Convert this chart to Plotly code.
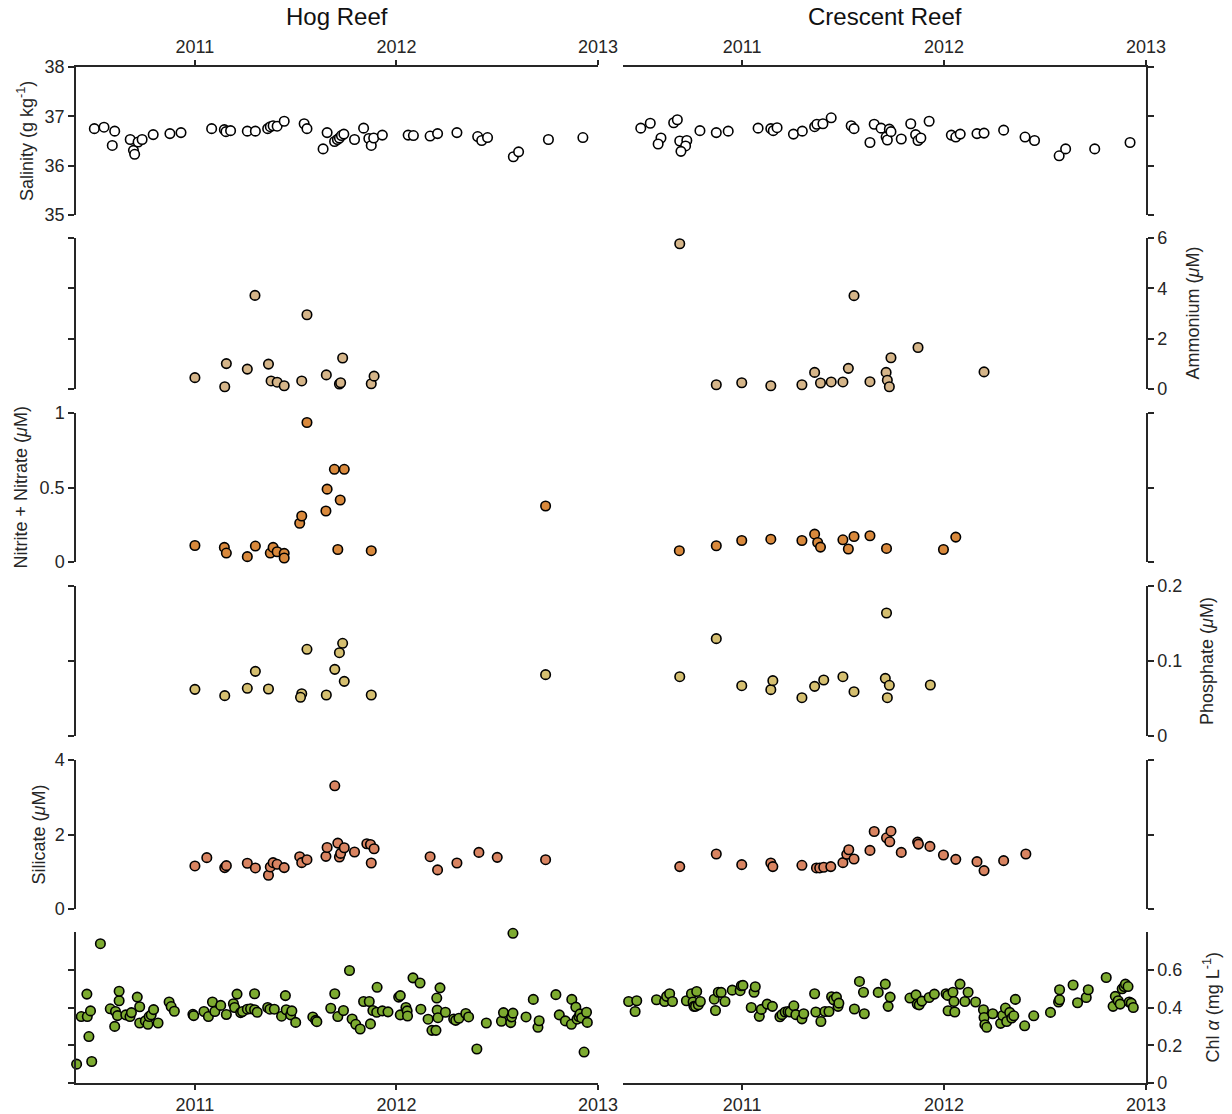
import plotly.graph_objects as go

# ---------------- DATA (decimal years, values) ----------------
hog_sal_t = [2010.501, 2010.549, 2010.602, 2010.590, 2010.679, 2010.695, 2010.701, 2010.718, 2010.738, 2010.793,
             2010.876, 2010.931, 2011.083, 2011.146, 2011.154, 2011.177, 2011.260, 2011.300, 2011.361, 2011.374,
             2011.388, 2011.408, 2011.443, 2011.542, 2011.556, 2011.636, 2011.656, 2011.693, 2011.707, 2011.717,
             2011.727, 2011.739, 2011.792, 2011.837, 2011.863, 2011.875, 2011.887, 2011.930, 2012.058, 2012.084,
             2012.167, 2012.204, 2012.300, 2012.403, 2012.423, 2012.452, 2012.580, 2012.606, 2012.754, 2012.925]
hog_sal = [36.75, 36.78, 36.70, 36.41, 36.53, 36.31, 36.23, 36.48, 36.53, 36.63,
           36.65, 36.67, 36.75, 36.73, 36.69, 36.71, 36.70, 36.70, 36.75, 36.79,
           36.81, 36.80, 36.90, 36.85, 36.75, 36.34, 36.67, 36.49, 36.53, 36.56,
           36.61, 36.64, 36.53, 36.76, 36.55, 36.41, 36.56, 36.62, 36.62, 36.61,
           36.60, 36.65, 36.67, 36.59, 36.51, 36.57, 36.18, 36.28, 36.53, 36.57]

cre_sal_t = [2010.498, 2010.545, 2010.598, 2010.584, 2010.661, 2010.679, 2010.691, 2010.726, 2010.720, 2010.697,
             2010.791, 2010.872, 2010.931, 2011.079, 2011.142, 2011.154, 2011.173, 2011.254, 2011.298, 2011.359,
             2011.370, 2011.400, 2011.441, 2011.540, 2011.554, 2011.633, 2011.654, 2011.688, 2011.713, 2011.719,
             2011.729, 2011.737, 2011.788, 2011.835, 2011.859, 2011.871, 2011.885, 2011.926, 2012.036, 2012.058,
             2012.080, 2012.163, 2012.198, 2012.295, 2012.401, 2012.448, 2012.570, 2012.602, 2012.746, 2012.921]
cre_sal = [36.76, 36.86, 36.56, 36.44, 36.87, 36.93, 36.50, 36.51, 36.40, 36.29,
           36.71, 36.67, 36.70, 36.76, 36.75, 36.71, 36.77, 36.64, 36.70, 36.79,
           36.84, 36.85, 36.97, 36.81, 36.75, 36.47, 36.84, 36.76, 36.58, 36.52,
           36.74, 36.69, 36.54, 36.85, 36.63, 36.51, 36.56, 36.90, 36.62, 36.58,
           36.64, 36.65, 36.66, 36.72, 36.58, 36.51, 36.20, 36.34, 36.34, 36.47]

hog_amm_t = [2011.000, 2011.156, 2011.148, 2011.260, 2011.298, 2011.365, 2011.378, 2011.408, 2011.443, 2011.530,
             2011.556, 2011.652, 2011.733, 2011.717, 2011.723, 2011.875, 2011.889]
hog_amm = [0.45, 1.01, 0.09, 0.79, 3.72, 0.99, 0.32, 0.27, 0.13, 0.32,
           2.95, 0.56, 1.23, 0.20, 0.25, 0.21, 0.51]

cre_amm_t = [2010.691, 2010.872, 2010.998, 2011.142, 2011.296, 2011.359, 2011.388, 2011.441, 2011.499, 2011.526,
             2011.554, 2011.633, 2011.713, 2011.719, 2011.729, 2011.737, 2011.871, 2012.198]
cre_amm = [5.77, 0.17, 0.25, 0.13, 0.17, 0.66, 0.24, 0.28, 0.28, 0.82,
           3.71, 0.29, 0.66, 0.35, 0.09, 1.24, 1.65, 0.68]

hog_nox_t = [2011.000, 2011.146, 2011.156, 2011.260, 2011.300, 2011.374, 2011.388, 2011.408, 2011.443, 2011.443,
             2011.520, 2011.530, 2011.556, 2011.650, 2011.656, 2011.692, 2011.741, 2011.721, 2011.709, 2011.875,
             2012.740]
hog_nox = [0.111, 0.098, 0.060, 0.036, 0.107, 0.060, 0.098, 0.069, 0.058, 0.027,
           0.260, 0.309, 0.936, 0.342, 0.489, 0.622, 0.622, 0.416, 0.084, 0.076,
           0.376]

cre_nox_t = [2010.689, 2010.872, 2010.998, 2011.142, 2011.296, 2011.359, 2011.374, 2011.388, 2011.499, 2011.526,
             2011.554, 2011.633, 2011.715, 2011.997, 2012.058]
cre_nox = [0.076, 0.109, 0.144, 0.153, 0.144, 0.187, 0.131, 0.100, 0.149, 0.087,
           0.171, 0.176, 0.091, 0.084, 0.167]

hog_po4_t = [2011.000, 2011.148, 2011.260, 2011.300, 2011.365, 2011.530, 2011.524, 2011.556, 2011.652, 2011.694,
             2011.733, 2011.717, 2011.741, 2011.875, 2012.740]
hog_po4 = [0.0622, 0.0538, 0.0636, 0.0862, 0.0627, 0.0564, 0.0516, 0.1156, 0.0547, 0.0889,
           0.1236, 0.1111, 0.0729, 0.0547, 0.0818]

cre_po4_t = [2010.691, 2010.872, 2010.998, 2011.142, 2011.152, 2011.296, 2011.359, 2011.404, 2011.499, 2011.554,
             2011.715, 2011.709, 2011.729, 2011.719, 2011.932]
cre_po4 = [0.0791, 0.1298, 0.0671, 0.0618, 0.0738, 0.0511, 0.0662, 0.0747, 0.0791, 0.0591,
           0.1640, 0.0769, 0.0676, 0.0511, 0.0680]

hog_si_t = [2011.000, 2011.059, 2011.148, 2011.156, 2011.260, 2011.300, 2011.365, 2011.374, 2011.388, 2011.408,
            2011.443, 2011.520, 2011.530, 2011.556, 2011.650, 2011.656, 2011.694, 2011.709, 2011.717, 2011.723,
            2011.741, 2011.792, 2011.853, 2011.871, 2011.889, 2011.875, 2012.167, 2012.204, 2012.300, 2012.409,
            2012.500, 2012.740]
hog_si = [1.156, 1.378, 1.111, 1.164, 1.227, 1.102, 0.907, 1.129, 1.244, 1.200,
          1.111, 1.404, 1.244, 1.324, 1.413, 1.653, 3.307, 1.769, 1.396, 1.493,
          1.644, 1.529, 1.751, 1.733, 1.618, 1.236, 1.404, 1.049, 1.236, 1.520,
          1.387, 1.324]

cre_si_t = [2010.691, 2010.872, 2010.998, 2011.142, 2011.152, 2011.296, 2011.368, 2011.384, 2011.404, 2011.439,
            2011.499, 2011.518, 2011.528, 2011.554, 2011.633, 2011.654, 2011.715, 2011.737, 2011.731, 2011.788,
            2011.869, 2011.873, 2011.930, 2011.997, 2012.058, 2012.163, 2012.198, 2012.295, 2012.405]
cre_si = [1.138, 1.476, 1.191, 1.236, 1.138, 1.173, 1.102, 1.102, 1.120, 1.138,
          1.244, 1.467, 1.591, 1.342, 1.573, 2.080, 1.911, 2.089, 1.804, 1.520,
          1.796, 1.742, 1.680, 1.449, 1.333, 1.271, 1.031, 1.298, 1.476]

hog_chl_t = [2010.413, 2010.436, 2010.466, 2010.464, 2010.474, 2010.482, 2010.488, 2010.531, 2010.580, 2010.602,
             2010.606, 2010.616, 2010.624, 2010.624, 2010.657, 2010.678, 2010.685, 2010.714, 2010.726, 2010.726,
             2010.754, 2010.767, 2010.773, 2010.783, 2010.795, 2010.817, 2010.872, 2010.882, 2010.898, 2010.990,
             2010.994, 2011.045, 2011.067, 2011.087, 2011.099, 2011.128, 2011.156, 2011.191, 2011.197, 2011.209,
             2011.227, 2011.236, 2011.260, 2011.276, 2011.296, 2011.296, 2011.309, 2011.361, 2011.372, 2011.394,
             2011.430, 2011.449, 2011.453, 2011.475, 2011.481, 2011.500, 2011.585, 2011.599, 2011.605, 2011.674,
             2011.694, 2011.709, 2011.737, 2011.767, 2011.780, 2011.798, 2011.820, 2011.837, 2011.865, 2011.871,
             2011.883, 2011.904, 2011.902, 2011.930, 2011.958, 2012.011, 2012.019, 2012.019, 2012.047, 2012.053,
             2012.055, 2012.082, 2012.117, 2012.121, 2012.157, 2012.176, 2012.196, 2012.200, 2012.202, 2012.206,
             2012.216, 2012.243, 2012.284, 2012.294, 2012.310, 2012.344, 2012.358, 2012.399, 2012.446, 2012.521,
             2012.531, 2012.567, 2012.571, 2012.578, 2012.578, 2012.643, 2012.679, 2012.702, 2012.708, 2012.791,
             2012.808, 2012.838, 2012.868, 2012.870, 2012.890, 2012.896, 2012.905, 2012.911, 2012.919, 2012.931,
             2012.943, 2012.947]
hog_chl = [0.100, 0.352, 0.352, 0.471, 0.246, 0.382, 0.114, 0.738, 0.393, 0.300,
           0.379, 0.357, 0.436, 0.486, 0.361, 0.352, 0.373, 0.455, 0.404, 0.318,
           0.329, 0.311, 0.352, 0.361, 0.389, 0.318, 0.429, 0.405, 0.380, 0.364,
           0.357, 0.379, 0.352, 0.429, 0.379, 0.411, 0.363, 0.420, 0.400, 0.471,
           0.373, 0.379, 0.391, 0.393, 0.473, 0.388, 0.375, 0.400, 0.391, 0.391,
           0.354, 0.463, 0.388, 0.361, 0.382, 0.321, 0.350, 0.332, 0.325, 0.396,
           0.473, 0.352, 0.384, 0.596, 0.339, 0.311, 0.286, 0.432, 0.432, 0.313,
           0.384, 0.507, 0.375, 0.382, 0.377, 0.455, 0.463, 0.361, 0.400, 0.382,
           0.355, 0.557, 0.530, 0.391, 0.338, 0.279, 0.279, 0.450, 0.386, 0.346,
           0.504, 0.375, 0.339, 0.332, 0.343, 0.368, 0.350, 0.180, 0.318, 0.327,
           0.373, 0.320, 0.350, 0.370, 0.793, 0.350, 0.443, 0.295, 0.330, 0.468,
           0.361, 0.329, 0.311, 0.443, 0.402, 0.338, 0.352, 0.366, 0.345, 0.164,
           0.375, 0.321]

cre_chl_t = [2010.438, 2010.478, 2010.470, 2010.576, 2010.616, 2010.626, 2010.641, 2010.655, 2010.724, 2010.749,
             2010.757, 2010.761, 2010.769, 2010.775, 2010.783, 2010.793, 2010.862, 2010.868, 2010.882, 2010.896,
             2010.915, 2010.951, 2010.990, 2010.996, 2011.004, 2011.045, 2011.059, 2011.065, 2011.085, 2011.095,
             2011.124, 2011.150, 2011.187, 2011.197, 2011.213, 2011.227, 2011.237, 2011.256, 2011.266, 2011.296,
             2011.305, 2011.359, 2011.365, 2011.390, 2011.410, 2011.430, 2011.443, 2011.453, 2011.467, 2011.475,
             2011.479, 2011.556, 2011.581, 2011.601, 2011.605, 2011.674, 2011.709, 2011.723, 2011.733, 2011.831,
             2011.861, 2011.867, 2011.877, 2011.890, 2011.926, 2011.952, 2012.010, 2012.018, 2012.020, 2012.044,
             2012.049, 2012.053, 2012.079, 2012.103, 2012.119, 2012.156, 2012.195, 2012.198, 2012.202, 2012.211,
             2012.241, 2012.280, 2012.290, 2012.304, 2012.310, 2012.325, 2012.335, 2012.345, 2012.353, 2012.399,
             2012.444, 2012.527, 2012.567, 2012.572, 2012.572, 2012.639, 2012.661, 2012.704, 2012.714, 2012.803,
             2012.837, 2012.848, 2012.862, 2012.872, 2012.882, 2012.892, 2012.898, 2012.911, 2012.917, 2012.927,
             2012.937]
cre_chl = [0.432, 0.436, 0.379, 0.441, 0.432, 0.459, 0.473, 0.432, 0.436, 0.473,
           0.429, 0.406, 0.406, 0.485, 0.414, 0.432, 0.444, 0.384, 0.481, 0.480,
           0.432, 0.492, 0.489, 0.515, 0.517, 0.400, 0.481, 0.510, 0.353, 0.390,
           0.418, 0.406, 0.351, 0.362, 0.376, 0.379, 0.376, 0.409, 0.362, 0.340,
           0.367, 0.473, 0.376, 0.326, 0.379, 0.379, 0.457, 0.441, 0.455, 0.406,
           0.423, 0.392, 0.538, 0.481, 0.367, 0.480, 0.524, 0.406, 0.455, 0.450,
           0.467, 0.418, 0.414, 0.434, 0.453, 0.471, 0.473, 0.464, 0.383, 0.481,
           0.432, 0.376, 0.524, 0.432, 0.481, 0.429, 0.388, 0.347, 0.309, 0.295,
           0.367, 0.316, 0.358, 0.397, 0.326, 0.374, 0.344, 0.356, 0.443, 0.303,
           0.356, 0.374, 0.429, 0.441, 0.494, 0.519, 0.425, 0.453, 0.494, 0.559,
           0.406, 0.459, 0.436, 0.418, 0.499, 0.511, 0.524, 0.511, 0.429, 0.423,
           0.400]

year_ticks = [2011, 2012, 2013]
year_labels = ["2011", "2012", "2013"]
site_titles = ["Hog Reef", "Crescent Reef"]

# ---------------- STYLE / LAYOUT ----------------
W, H = 1232, 1114
FONT = "Liberation Sans, Arial, Helvetica, sans-serif"
AX = "#262626"
TICKF = 18
TITLEF = 18

rows = [
    dict(data=[(hog_sal_t, hog_sal), (cre_sal_t, cre_sal)], color="white", rng=[35, 38], ticks=[35, 36, 37, 38],
         labels=["35", "36", "37", "38"], side=0, title="Salinity (g kg<sup>-1</sup>)", tx=25),
    dict(data=[(hog_amm_t, hog_amm), (cre_amm_t, cre_amm)], color="#D5B589", rng=[0, 6], ticks=[0, 2, 4, 6],
         labels=["0", "2", "4", "6"], side=1, title="Ammonium (<i>μ</i>M)", tx=1192),
    dict(data=[(hog_nox_t, hog_nox), (cre_nox_t, cre_nox)], color="#D9893C", rng=[0, 1], ticks=[0, 0.5, 1],
         labels=["0", "0.5", "1"], side=0, title="Nitrite + Nitrate (<i>μ</i>M)", tx=20),
    dict(data=[(hog_po4_t, hog_po4), (cre_po4_t, cre_po4)], color="#D5BF70", rng=[0, 0.2], ticks=[0, 0.1, 0.2],
         labels=["0", "0.1", "0.2"], side=1, title="Phosphate (<i>μ</i>M)", tx=1207),
    dict(data=[(hog_si_t, hog_si), (cre_si_t, cre_si)], color="#D98461", rng=[0, 4], ticks=[0, 2, 4],
         labels=["0", "2", "4"], side=0, title="Silicate (<i>μ</i>M)", tx=38),
    dict(data=[(hog_chl_t, hog_chl), (cre_chl_t, cre_chl)], color="#7DAB30", rng=[0, 0.8], ticks=[0, 0.2, 0.4, 0.6],
         labels=["0", "0.2", "0.4", "0.6"], side=1, title="Chl <i>α</i> (mg L<sup>-1</sup>)", tx=1212),
]

tops = [67, 238, 413, 586, 760, 932]
bottoms = [215, 389, 562, 736, 909, 1083]
xdoms = [(76, 598), (623, 1146)]
XR = [2010.41, 2013.0]

fig = go.Figure()
layout = dict(width=W, height=H, margin=dict(l=0, r=0, t=0, b=0, pad=0, autoexpand=False),
              paper_bgcolor="white", plot_bgcolor="rgba(0,0,0,0)", showlegend=False, autosize=False,
              font=dict(family=FONT, size=TICKF, color=AX))
annotations = []

for r, row in enumerate(rows):
    ydom = [1 - bottoms[r] / H, 1 - tops[r] / H]
    for c in range(2):
        idx = r * 2 + c + 1
        sfx = "" if idx == 1 else str(idx)
        xs, ys = row["data"][c]
        fig.add_trace(go.Scatter(
            x=xs, y=ys, mode="markers", xaxis="x" + sfx, yaxis="y" + sfx, cliponaxis=False,
            marker=dict(size=9.5, color=row["color"], line=dict(color="black", width=1.6)),
            hoverinfo="x+y"))
        xd = [xdoms[c][0] / W, xdoms[c][1] / W]
        show_x = r in (0, 5)
        xax = dict(domain=xd, anchor="y" + sfx, range=XR, showgrid=False, zeroline=False, automargin=False,
                   showline=show_x, linecolor=AX, linewidth=1.5,
                   ticks="outside" if show_x else "", ticklen=5, tickwidth=1.5, tickcolor=AX,
                   tickvals=year_ticks, ticktext=year_labels, showticklabels=show_x,
                   side="top" if r == 0 else "bottom", tickfont=dict(size=TICKF, color=AX, family=FONT))
        label_here = (row["side"] == c)
        yax = dict(domain=ydom, anchor="x" + sfx, range=row["rng"], showgrid=False, zeroline=False,
                   automargin=False,
                   showline=True, linecolor=AX, linewidth=1.5, ticks="outside", ticklen=6, tickwidth=1.5,
                   tickcolor=AX, tickvals=row["ticks"], ticktext=row["labels"], showticklabels=label_here,
                   side="left" if c == 0 else "right", tickfont=dict(size=TICKF, color=AX, family=FONT))
        layout["xaxis" + sfx] = xax
        layout["yaxis" + sfx] = yax
    annotations.append(dict(text=row["title"], x=row["tx"] / W, y=1 - (tops[r] + bottoms[r]) / 2 / H,
                            xref="paper", yref="paper", showarrow=False, textangle=-90,
                            xanchor="center", yanchor="middle",
                            font=dict(size=TITLEF, color=AX, family=FONT)))

for c in range(2):
    annotations.append(dict(text=site_titles[c], x=(xdoms[c][0] + xdoms[c][1]) / 2 / W, y=1 - 17 / H,
                            xref="paper", yref="paper", showarrow=False, xanchor="center", yanchor="middle",
                            font=dict(size=24, color="#111111", family=FONT)))

layout["annotations"] = annotations
fig.update_layout(**layout)
fig.write_html("out.html")
